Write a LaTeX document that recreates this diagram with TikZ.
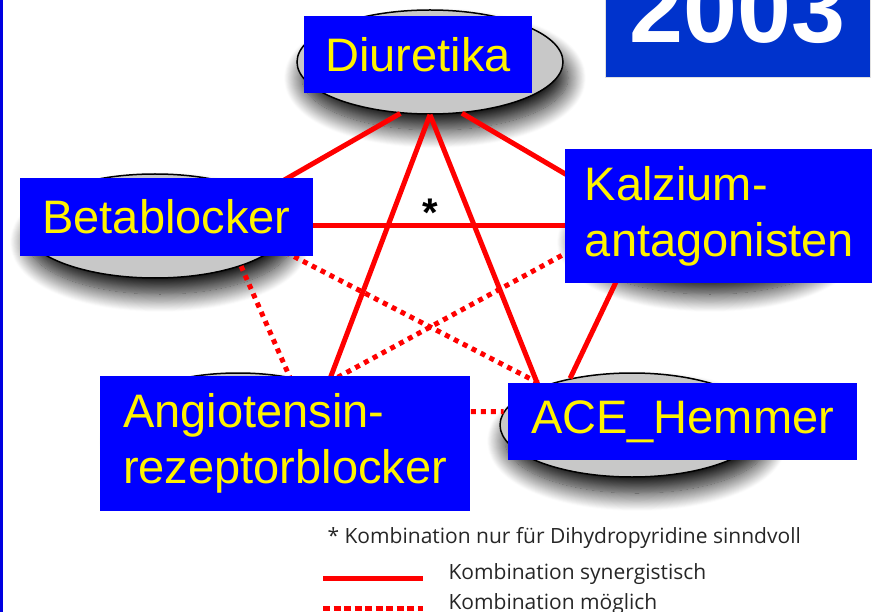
\documentclass[tikz,border=0pt]{standalone}
\usepackage{fontspec}
\setmainfont{Liberation Sans}
\newfontfamily\legfont{Open Sans}
\usetikzlibrary{shapes.geometric,shadows.blur}
\definecolor{tagblue}{RGB}{0,0,255}
\definecolor{yearblue}{RGB}{0,51,204}
\definecolor{pillgray}{RGB}{200,200,200}
\definecolor{edgeblue}{RGB}{0,0,225}

\begin{document}
\begin{tikzpicture}[x=1pt,y=-1pt,
  pill/.style={ellipse,draw=black,line width=1.5pt,fill=pillgray,inner sep=0pt,minimum height=104pt,
    blur shadow={shadow xshift=5pt,shadow yshift=-16pt,shadow blur radius=18pt,shadow blur steps=20,shadow opacity=95}},
  tag/.style={fill=tagblue,text=yellow,inner xsep=20pt,inner ysep=0pt,font=\fontsize{47}{56}\selectfont,align=left},
  syn/.style={red,line width=5pt},
  poss/.style={red,line width=5pt,dash pattern=on 5pt off 5pt},
  leg/.style={anchor=base west,text=black!85,font=\legfont\fontsize{21}{24}\selectfont}]
\useasboundingbox (0,0) rectangle (872,612);
\clip (0,0) rectangle (872,612);
\node[pill,minimum width=266pt] (diu) at (430,62) {};
\node[pill,minimum width=264pt] (beta) at (155,226) {};
\node[pill,minimum width=270pt] (kal) at (705,226) {};
\node[pill,minimum width=252pt] (angio) at (238,425) {};
\node[pill,minimum width=264pt] (ace) at (632,425) {};
\draw[syn] (diu.240) -- (beta.17);
\draw[syn] (diu.302) -- (kal.163);
\draw[syn] (diu.270) -- (angio.23);
\draw[syn] (diu.270) -- (ace.158);
\draw[syn] (beta.0) -- (kal.180);
\draw[syn] (kal.207) -- (ace.143);
\draw[poss] (beta.350) -- (ace.156);
\draw[poss] (beta.335) -- (angio.43);
\draw[poss] (kal.189) -- (angio.25);
\draw[poss] (angio.6) -- (ace.174);
\node[tag,minimum width=228pt,minimum height=77pt] (tdiu) at (418,54.5) {Diuretika};
\node[tag,minimum width=293pt,minimum height=78pt] (tbeta) at (166.5,217) {Betablocker};
\node[tag,minimum width=305pt,minimum height=134pt] (tkal) at (719.5,216) {Kalzium-\\antagonisten};
\node[tag,minimum width=370pt,minimum height=135pt] (tangio) at (285,443.5) {Angiotensin-\\rezeptorblocker};
\node[tag,minimum width=349pt,minimum height=77pt] (tace) at (682.5,421.5) {ACE\_Hemmer};
\node[font=\bfseries\fontsize{40}{40}\selectfont] (star) at (430,213) {*};
\node[fill=yearblue,text=white,font=\bfseries\fontsize{97}{100}\selectfont,minimum width=265pt,inner ysep=35pt,
  text depth=0pt,anchor=base,draw=black!12,line width=1pt] (year) at (737.5,43) {2003};
\node[leg] (note) at (324,543) {* Kombination nur für Dihydropyridine sinndvoll};
\node[leg] (lsyn) at (445,579) {Kombination synergistisch};
\node[leg] (lposs) at (445,609) {Kombination möglich};
\coordinate (s1) at (323,578); \coordinate (s2) at (423,578);
\coordinate (p1) at (323,608); \coordinate (p2) at (423,608);
\draw[syn] (s1) -- (s2);
\draw[poss,dash pattern=on 7pt off 3.5pt] (p1) -- (p2);
\fill[edgeblue] (0,0) rectangle (3,612);
\end{tikzpicture}
\end{document}
